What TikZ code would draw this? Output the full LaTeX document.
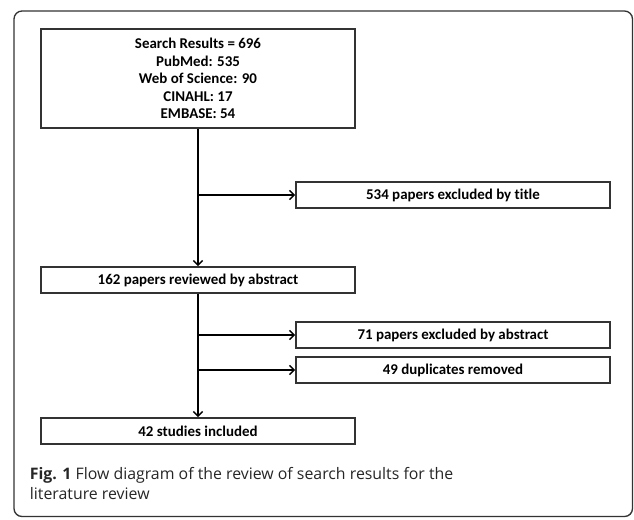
\documentclass[tikz,border=0pt]{standalone}
\usepackage{fontspec}
\setmainfont{Carlito}[Ligatures=NoCommon]
\newfontfamily\capfont{Open Sans}
\usetikzlibrary{positioning,arrows.meta}

\begin{document}
\begin{tikzpicture}[x=0.75pt,y=-0.75pt,
  every node/.style={draw=black!80,line width=1.4pt,align=center,inner sep=0pt,
    font=\bfseries\fontsize{11.2}{13.1}\selectfont},
  leftbox/.style={minimum width=235.5pt,minimum height=19.5pt},
  rightbox/.style={minimum width=235.5pt,minimum height=19.5pt},
  flow/.style={line width=1pt,-{Straight Barb[length=3.5pt,width=7pt]}}]
\useasboundingbox (0,0) rectangle (634,519);
\draw [rounded corners=6pt,line width=1pt,black!80] (14,11) rectangle (632.5,516.5);
% boxes
\node [leftbox,minimum height=74.25pt] (SearchResults) at (198,78.5)
  {Search Results = 696\\PubMed: 535\\Web of Science: 90\\CINAHL: 17\\EMBASE: 54};
\node [rightbox] (ExclTitle) at (453,195) {534 papers excluded by title};
\node [leftbox] (ByAbstract) at (198,280) {162 papers reviewed by abstract};
\node [rightbox] (ExclAbstract) at (453,335) {71 papers excluded by abstract};
\node [rightbox] (Duplicates) at (453,370) {49 duplicates removed};
\node [leftbox] (Included) at (198,431) {42 studies included};
% connectors
\draw [flow] (SearchResults.south) -- (ByAbstract.north);
\draw [flow] (SearchResults.south |- ExclTitle.west) -- (ExclTitle.west);
\draw [flow] (ByAbstract.south) -- (Included.north);
\draw [flow] (ByAbstract.south |- ExclAbstract.west) -- (ExclAbstract.west);
\draw [flow] (ByAbstract.south |- Duplicates.west) -- (Duplicates.west);
% caption
\node [draw=none,anchor=north west,align=left,text=black!85,
  font=\capfont\fontsize{11.9}{15.2}\selectfont] (Caption) at (29,466)
  {{\bfseries Fig. 1} Flow diagram of the review of search results for the\\literature review};
\end{tikzpicture}
\end{document}
